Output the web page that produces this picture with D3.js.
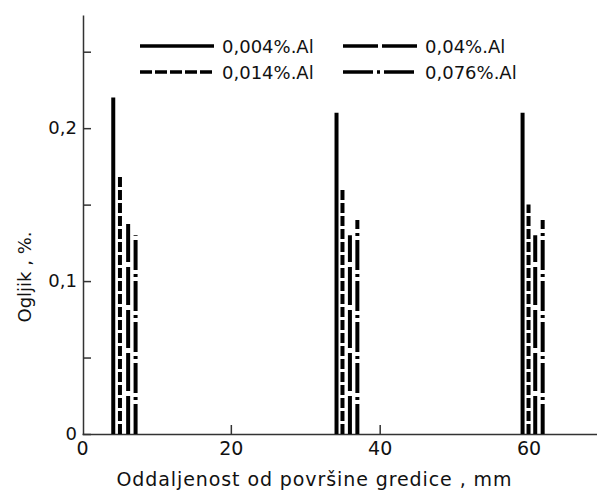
<!DOCTYPE html>
<html>
<head>
<meta charset="utf-8">
<script src="https://cdn.jsdelivr.net/npm/d3@7"></script>
<style>
  body { margin: 0; background: #fff; }
  text { font-family: "DejaVu Sans", sans-serif; fill: #111; }
</style>
</head>
<body>
<svg width="597" height="490"></svg>
<script>
const svg = d3.select("svg");

// aluminium contents (series)
const series = ["0,004%.Al", "0,014%.Al", "0,04%.Al", "0,076%.Al"];
// distance from billet surface, mm (one array per series)
const posSolid = [4.2, 34.2, 59.2];
const posDash = [5.1, 35.0, 60.0];
const posLong = [6.2, 36.0, 60.9];
const posDot = [7.2, 37.0, 61.9];
// carbon, %
const cSolid = [0.22, 0.21, 0.21];
const cDash = [0.17, 0.16, 0.15];
const cLong = [0.14, 0.13, 0.13];
const cDot = [0.13, 0.14, 0.14];

const xTicks = [0, 20, 40, 60];
const yTicks = [0, 0.05, 0.1, 0.15, 0.2, 0.25];
const yLabels = ["0", "", "0,1", "", "0,2", ""];

const dashes = ["none", "10,3", "38,5", "30,4,3,4"];

const x = d3.scaleLinear().domain([0, 69.2]).range([82, 597]);
const y = d3.scaleLinear().domain([0, 0.274]).range([434, 15]);

// axes
const yAxis = d3.axisLeft(y)
  .tickValues(yTicks)
  .tickSize(-8)
  .tickSizeOuter(0)
  .tickPadding(6)
  .tickFormat((d, i) => yLabels[i]);

const gy = svg.append("g").attr("transform", "translate(83,0)").call(yAxis);
gy.selectAll("text").attr("font-size", 18);

const xAxis = d3.axisBottom(x)
  .tickValues(xTicks)
  .tickSize(-9)
  .tickSizeOuter(0)
  .tickPadding(8)
  .tickFormat(d3.format("d"));

const gx = svg.append("g").attr("transform", "translate(0,434)").call(xAxis);
gx.selectAll("text").attr("font-size", 19);
gx.selectAll(".tick").filter(d => d === 0).select("line").remove();

svg.selectAll(".domain, .tick line").attr("stroke", "#333").attr("stroke-width", 1.5);

// bars
const data = [
  { pos: posSolid, c: cSolid, dash: dashes[0] },
  { pos: posDash, c: cDash, dash: dashes[1] },
  { pos: posLong, c: cLong, dash: dashes[2] },
  { pos: posDot, c: cDot, dash: dashes[3] }
];

data.forEach(s => {
  svg.append("g").selectAll("line")
    .data(s.pos.map((p, i) => ({ p, v: s.c[i] })))
    .enter().append("line")
      .attr("x1", d => x(d.p))
      .attr("x2", d => x(d.p))
      .attr("y1", y(0))
      .attr("y2", d => y(d.v))
      .attr("stroke", "#000")
      .attr("stroke-width", 4)
      .attr("stroke-dasharray", s.dash);
});

// legend
const legendPos = [[140, 46], [140, 72], [343, 46], [343, 72]];
const legendDash = [dashes[0], "12,3", "35,4", "30,4,3,4"];
const lg = svg.append("g");
series.forEach((name, i) => {
  const [lx, ly] = legendPos[i];
  lg.append("line")
    .attr("x1", lx).attr("x2", lx + 74)
    .attr("y1", ly).attr("y2", ly)
    .attr("stroke", "#000").attr("stroke-width", 3.5)
    .attr("stroke-dasharray", legendDash[i]);
  lg.append("text")
    .attr("x", lx + 82).attr("y", ly + 7)
    .attr("font-size", 18)
    .text(name);
});

// axis titles
svg.append("text")
  .attr("x", 314).attr("y", 486)
  .attr("text-anchor", "middle")
  .attr("font-size", 19)
  .attr("textLength", 395)
  .text("Oddaljenost od površine gredice , mm");

svg.append("text")
  .attr("transform", "translate(31,277) rotate(-90)")
  .attr("text-anchor", "middle")
  .attr("font-size", 18)
  .text("Ogljik , %.");
</script>
</body>
</html>
